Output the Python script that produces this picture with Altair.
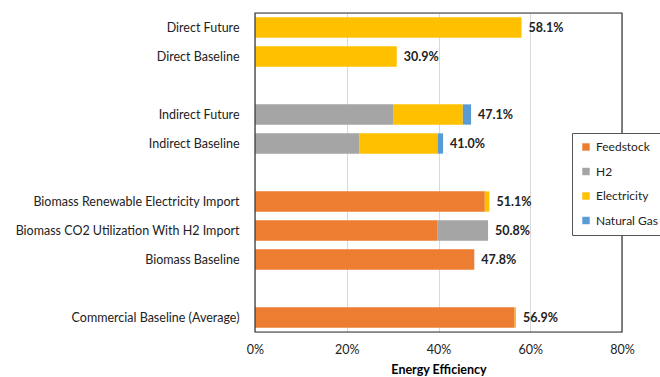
import altair as alt
import pandas as pd

# Pathway rows, top to bottom; blank names act as spacer rows between groups
categories = [
    "Direct Future", "Direct Baseline", " ",
    "Indirect Future", "Indirect Baseline", "  ",
    "Biomass Renewable Electricity Import",
    "Biomass CO2 Utilization With H2 Import",
    "Biomass Baseline", "   ",
    "Commercial Baseline (Average)",
]
pathways = [c for c in categories if c.strip()]

# Energy-input contributions (% efficiency) per pathway
feedstock = [0, 0, 0, 0, 50.1, 39.7, 47.8, 56.6]
h2 = [0, 0, 30.1, 22.7, 0, 11.1, 0, 0]
electricity = [58.1, 30.9, 15.2, 17.1, 1.0, 0, 0, 0.3]
natural_gas = [0, 0, 1.8, 1.2, 0, 0, 0, 0]
totals = [58.1, 30.9, 47.1, 41.0, 51.1, 50.8, 47.8, 56.9]

sources = ["Feedstock", "H2", "Electricity", "Natural Gas"]
colors = ["#ED7D31", "#A5A5A5", "#FFC000", "#5B9BD5"]

rows = []
for i, p in enumerate(pathways):
    for k, (s, vals) in enumerate(zip(sources, [feedstock, h2, electricity, natural_gas])):
        rows.append({"pathway": p, "source": s, "order": k, "value": vals[i]})
df = pd.DataFrame(rows)
tot = pd.DataFrame({"pathway": pathways, "total": totals,
                    "label": [f"{t:.1f}%" for t in totals]})

FONT = "Lato"
FS = 12.5
FRAME = "#333333"
W, H = 367, 319

y_enc = alt.Y("pathway:N", sort=categories,
              scale=alt.Scale(domain=categories, paddingInner=0.3, paddingOuter=0.15),
              axis=alt.Axis(title=None, domain=False, ticks=False, labelPadding=16,
                            labelFontSize=FS, labelColor="#222", labelFont=FONT, labelLimit=300))

# light vertical grid only at the inner ticks
grid_color = {"condition": {"test": "datum.value == 0 || datum.value == 80", "value": "transparent"},
              "value": "#d9d9d9"}

bars = alt.Chart(df).mark_bar().encode(
    y=y_enc,
    x=alt.X("value:Q", stack="zero",
            scale=alt.Scale(domain=[0, 80], nice=False),
            axis=alt.Axis(values=[0, 20, 40, 60, 80], labelExpr="datum.value + '%'",
                          labelFlush=False,
                          title="Energy Efficiency", titleFont=FONT, titleFontSize=FS,
                          titleFontWeight="bold", titlePadding=8,
                          labelFont=FONT, labelFontSize=FS, labelColor="#222",
                          labelPadding=11, ticks=False, domain=False,
                          grid=True, gridColor=grid_color)),
    color=alt.Color("source:N", sort=sources,
                    scale=alt.Scale(domain=sources, range=colors),
                    legend=alt.Legend(title=None, orient="none", legendX=317, legendY=120,
                                      symbolType="square", symbolSize=55, symbolOffset=0,
                                      labelFont=FONT, labelFontSize=12, labelColor="#222",
                                      labelOffset=4, rowPadding=12.5, padding=8,
                                      fillColor="white", strokeColor="#555")),
    order=alt.Order("order:Q"),
)

labels = alt.Chart(tot).mark_text(align="left", dx=7, fontWeight="bold",
                                  fontSize=FS, font=FONT, color="#222").encode(
    y=alt.Y("pathway:N", sort=categories, scale=alt.Scale(domain=categories)),
    x=alt.X("total:Q"),
    text="label:N",
)

# plot-area border
frame = alt.Chart(pd.DataFrame({"f": [0]})).mark_rect(
    fill=None, stroke=FRAME, strokeWidth=1.2
).encode(x=alt.value(0), x2=alt.value(W), y=alt.value(0), y2=alt.value(H))

chart = (bars + labels + frame).properties(
    width=W, height=H,
    autosize=alt.AutoSizeParams(type="none"),
    padding={"left": 255, "top": 13, "right": 38, "bottom": 45},
).configure_view(stroke=None).configure(background="white")

chart.save("out.html", embed_options={"renderer": "svg", "actions": False})
